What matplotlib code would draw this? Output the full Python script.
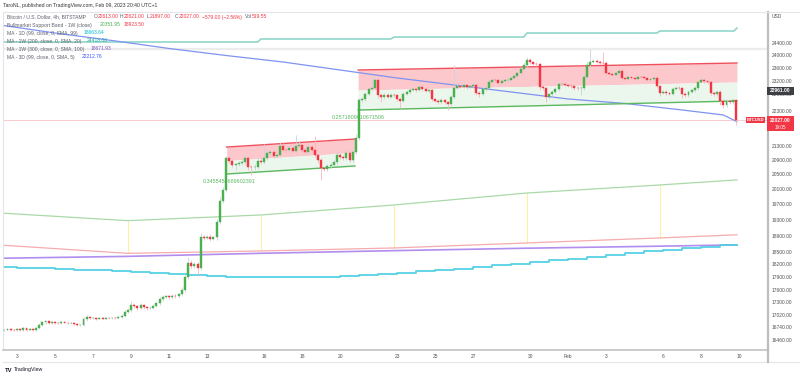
import numpy as np
import matplotlib
matplotlib.use('Agg')
import matplotlib.pyplot as plt
from matplotlib.ticker import FixedLocator, NullLocator, NullFormatter
from matplotlib.lines import Line2D
from matplotlib.patches import Rectangle

# ---------------- data (4h candles, BITSTAMP BTCUSD, Jan 2 08:00 -> Feb 9 20:00) ----------------
first_open = 16680
closes = [
    16690, 16705, 16680, 16670,
    16700, 16680, 16715, 16690, 16705, 16680,
    16720, 16800, 16850, 16870, 16840, 16860,
    16840, 16830, 16860, 16845, 16830, 16840,
    16815, 16790, 16800, 16920, 16960, 16940,
    16945, 16930, 16940, 16935, 16950, 16945,
    16950, 16940, 16970, 17000, 17080, 17120,
    17250, 17210, 17180, 17240, 17190, 17170,
    17180, 17230, 17280, 17380, 17430, 17440,
    17420, 17460, 17440, 17490, 17600, 17895,
    18230, 18160, 18200, 18120, 18870, 18850,
    18880, 18830, 18860, 19250, 19800, 20080,
    20950, 20860, 20760, 20780, 20800, 20830,
    20950, 20700, 20690, 20710, 20880, 20850,
    20950, 21090, 21120, 21000, 21040, 21300,
    21180, 21160, 21230, 21150, 21290, 21320,
    21180, 21120, 21250, 21170, 21040, 20900,
    20680, 20650, 20720, 20770, 20830, 21030,
    20980, 20950, 21090, 20900, 21120, 21515,
    22610, 22650, 22800, 22960, 22990, 23240,
    22780, 22700, 22790, 22720, 22790, 22770,
    22650, 22600, 22800, 22870, 22930, 22970,
    22930, 23010, 22950, 22900, 22920, 22650,
    22600, 22560, 22620, 22560, 22500, 22700,
    23000, 23060, 23030, 23080, 23020, 23040,
    23090, 22850, 22800, 22950, 23000, 23180,
    23230, 23220, 23150, 23200, 23220, 23240,
    23300, 23350, 23450, 23560, 23700, 23850,
    23780, 23740, 23720, 23020, 22980, 22720,
    22800, 22870, 22950, 23100, 23120, 23080,
    23060, 23040, 22990, 22980, 23000, 23330,
    23700, 23800, 23820, 23790, 23770, 23760,
    23450, 23420, 23400, 23460, 23520, 23300,
    23270, 23310, 23300, 23270, 23330, 23320,
    23280, 23240, 23250, 23300, 23050, 22850,
    22880, 22840, 22820, 22960, 23000, 22980,
    22820, 22760, 22880, 22920, 22990, 23170,
    23240, 23190, 23160, 22850, 22800, 22880,
    22600, 22480, 22600, 22550, 22613, 22027,
]
wick_up = [
    20, 25, 20, 15,
    25, 20, 30, 20, 15, 25,
    20, 40, 30, 30, 20, 25,
    20, 25, 30, 20, 15, 20,
    20, 15, 20, 40, 50, 20,
    15, 20, 15, 20, 15, 20,
    20, 15, 20, 30, 40, 50,
    80, 30, 25, 40, 30, 20,
    30, 40, 40, 50, 40, 30,
    30, 40, 30, 40, 60, 70,
    150, 80, 60, 60, 100, 60,
    50, 60, 40, 80, 100, 90,
    60, 60, 50, 40, 60, 80,
    100, 50, 60, 70, 100, 60,
    400, 80, 90, 60, 60, 100,
    70, 60, 80, 60, 300, 100,
    60, 60, 80, 80, 400, 60,
    40, 50, 60, 60, 70, 80,
    60, 60, 90, 70, 80, 100,
    60, 60, 60, 60, 300, 110,
    50, 60, 60, 50, 60, 50,
    50, 40, 60, 50, 60, 50,
    50, 60, 40, 40, 50, 40,
    40, 40, 50, 40, 30, 60,
    700, 80, 50, 60, 40, 50,
    60, 50, 40, 60, 60, 80,
    60, 40, 40, 50, 40, 50,
    60, 60, 70, 80, 90, 100,
    60, 50, 40, 40, 50, 50,
    50, 50, 60, 60, 50, 40,
    40, 40, 40, 40, 60, 80,
    90, 420, 80, 60, 60, 330,
    60, 40, 40, 50, 60, 50,
    40, 50, 40, 40, 60, 40,
    50, 40, 40, 60, 50, 40,
    40, 40, 40, 60, 60, 40,
    50, 40, 40, 50, 60, 60,
    80, 50, 40, 40, 40, 50,
    60, 50, 60, 50, 50, 8,
]
wick_dn = [
    20, 20, 25, 20,
    20, 25, 20, 25, 20, 20,
    20, 20, 30, 30, 25, 20,
    20, 25, 20, 20, 25, 20,
    25, 30, 20, 20, 30, 25,
    15, 20, 15, 15, 20, 15,
    20, 20, 20, 20, 30, 30,
    40, 40, 50, 30, 30, 40,
    30, 30, 40, 30, 40, 30,
    40, 30, 40, 30, 40, 50,
    60, 60, 50, 170, 60, 60,
    40, 50, 40, 60, 50, 60,
    60, 60, 60, 150, 60, 50,
    60, 80, 200, 60, 50, 60,
    60, 50, 60, 60, 50, 60,
    60, 60, 50, 60, 60, 50,
    60, 60, 60, 60, 60, 80,
    330, 60, 50, 40, 50, 60,
    50, 60, 50, 60, 50, 60,
    60, 60, 60, 60, 60, 60,
    100, 150, 50, 50, 40, 50,
    60, 200, 50, 40, 50, 40,
    50, 40, 40, 40, 50, 60,
    50, 60, 50, 60, 180, 60,
    60, 40, 50, 40, 50, 40,
    40, 80, 80, 50, 40, 50,
    40, 40, 60, 40, 40, 40,
    40, 50, 50, 50, 60, 60,
    50, 40, 50, 80, 60, 170,
    60, 50, 50, 50, 40, 40,
    40, 40, 50, 60, 200, 60,
    60, 60, 50, 40, 40, 40,
    60, 50, 40, 40, 40, 60,
    50, 40, 40, 40, 40, 40,
    40, 40, 40, 40, 60, 100,
    40, 60, 60, 50, 40, 40,
    150, 60, 50, 40, 40, 50,
    40, 50, 50, 60, 60, 60,
    120, 80, 60, 60, 50, 130,
]

# indicator series (x given as candle index)
weekly_idx = [-1.4, 39, 81, 123, 165, 207, 231.3]
band_green = [19478, 19281, 19427, 19686, 20001, 20215, 20352]
band_red = [18669, 18464, 18522, 18596, 18720, 18845, 18923.5]
ma1w300 = [18344, 18390, 18465, 18530, 18590, 18640, 18672]
band_marks = [39, 81, 123, 165, 207]

ma1w200_vals = [24432, 24529, 24594, 24724, 24790, 24889]
ma1w200_steps = [81, 123, 165, 207, 231.3]

ma1d_days = list(range(-1, 38))  # Jan 2 .. Feb 9 (days from Jan 3)
ma1d_vals = [18134, 18120, 18105, 18090, 18070, 18050, 18030, 18010, 17990, 17960,
             17940, 17920, 17900, 17890, 17885, 17883, 17883, 17890, 17910, 17940,
             17970, 18000, 18030, 18060, 18090, 18130, 18170, 18210, 18250, 18290,
             18330, 18380, 18430, 18470, 18510, 18550, 18590, 18630, 18664]

ma3d_idx = [-1.4, 16, 34, 52, 70, 88, 106, 124, 142, 160, 178, 196, 214, 227, 231.3]
ma3d_vals = [24989, 24725, 24481, 24223, 23999, 23793, 23542, 23294, 23080, 22866,
             22655, 22520, 22327, 22180, 21984]

# drawn channels: (start idx, end idx), top prices, bottom prices
ch1_idx, ch1_top, ch1_bot = [70.2, 110.7], [21257, 21484], [20511, 20730]
ch2_idx, ch2_top, ch2_bot = [111.7, 231.3], [23542, 23761], [22326, 22595]
ch1_label, ch2_label = "0.3455454689602391", "0.2571809610671506"

hline_grey = 24222
last_price = 22027
marker_price = 22961

ytick_vals = [24400, 24000, 23600, 23200, 22800, 22300, 21300, 20900, 20500, 20100,
              19700, 19300, 18900, 18500, 18200, 17900, 17600, 17300, 17020, 16740, 16460]
xtick_days = [0, 2, 4, 6, 8, 10, 13, 15, 17, 20, 22, 24, 27, 29, 31, 34, 36, 38]
xtick_labels = ["3", "5", "7", "9", "11", "13", "16", "18", "20", "23", "25", "27",
                "30", "Feb", "3", "6", "8", "10"]

# ---------------- figure ----------------
FONT = ['Liberation Sans', 'DejaVu Sans']
plt.rcParams['font.family'] = FONT
W, H = 800, 378
fig = plt.figure(figsize=(8, 3.78), dpi=100, facecolor='white')
def fx(px): return px / W
def fy(py): return 1 - py / H

ax = fig.add_axes([fx(3), fy(350), fx(768) - fx(3), fy(12) - fy(350)])
ax.set_facecolor('white')
ax.set_yscale('log')
ax.set_xlim(-0.42, 241.1)
ax.set_ylim(16244, 25423)

closes_a = np.array(closes, float)
opens_a = np.concatenate([[first_open], closes_a[:-1]])
idx = np.arange(len(closes_a))
hi_body = np.maximum(opens_a, closes_a)
lo_body = np.minimum(opens_a, closes_a)
highs = hi_body + np.array(wick_up)
lows = lo_body - np.array(wick_dn)
up = closes_a >= opens_a

UP, DN = '#4caf50', '#f23645'
ax.vlines(idx[up], lows[up], highs[up], color='#c9d3de', lw=0.6, zorder=3)
ax.vlines(idx[~up], lows[~up], highs[~up], color='#f6b9be', lw=0.6, zorder=3)
cols = np.where(up, UP, DN)
ax.bar(idx, np.maximum(hi_body - lo_body, 8), bottom=lo_body, width=0.62,
       color=cols, edgecolor=cols, linewidth=0.3, zorder=4)

# channels
for cidx, ctop, cbot in [(ch1_idx, ch1_top, ch1_bot), (ch2_idx, ch2_top, ch2_bot)]:
    mid = np.sqrt(np.array(ctop) * np.array(cbot))
    ax.fill_between(cidx, ctop, mid, color='#fcc8cc', lw=0, zorder=1)
    ax.fill_between(cidx, mid, cbot, color='#ebf6ec', lw=0, zorder=1)
    ax.plot(cidx, ctop, color='#f0505c', lw=1.0, zorder=2.6)
    ax.plot(cidx, cbot, color='#5cb860', lw=1.0, zorder=2.6)

ax.text(62.7, 20303, ch1_label, color='#5cb860', fontsize=3.9, va='center', ha='left', zorder=2)
ax.text(103.5, 22099, ch2_label, color='#5cb860', fontsize=3.9, va='center', ha='left', zorder=2)

# horizontal lines
ax.axhline(hline_grey, color='#ececec', lw=1.6, zorder=0.5)
ax.axhline(last_price, color='#f23645', lw=0.6, alpha=0.3, zorder=0.6)

# indicators
ax.plot(weekly_idx, band_green, color='#a9d9a9', lw=0.9, zorder=2)
ax.plot(weekly_idx, band_red, color='#f6abad', lw=0.9, zorder=2)
gmap = dict(zip(weekly_idx, band_green)); rmap = dict(zip(weekly_idx, band_red))
ax.vlines(band_marks, [rmap[m] for m in band_marks], [gmap[m] for m in band_marks],
          color='#fff0a0', lw=0.8, zorder=1.5)
ax.plot(weekly_idx, ma1w300, color='#b18df0', lw=1.2, zorder=2)

tx, ty = [-1.4], [ma1w200_vals[0]]
for k, s in enumerate(ma1w200_steps):
    tx += [s - 1, s]
    ty += [ma1w200_vals[k], ma1w200_vals[k + 1]]
ax.plot(tx, ty, color='#86d3c6', lw=1.1, zorder=2)

ma1d_idx = [4 + 6 * d for d in ma1d_days]
ax.plot(ma1d_idx + [231.3], ma1d_vals + [ma1d_vals[-1]], color='#4fcfe3', lw=1.25,
        zorder=2, drawstyle='steps-post')

ax.plot(ma3d_idx, ma3d_vals, color='#7f93f0', lw=0.9, zorder=2.5)

# axes / ticks
ax.yaxis.tick_right()
ax.yaxis.set_major_locator(FixedLocator(ytick_vals))
ax.yaxis.set_minor_locator(NullLocator())
ax.yaxis.set_minor_formatter(NullFormatter())
ax.set_yticklabels([f"{v:.2f}" for v in ytick_vals])
ax.tick_params(axis='y', length=0, pad=2.8, labelsize=3.5, labelcolor='#505050')
ax.set_xticks([4 + 6 * d for d in xtick_days])
ax.set_xticklabels(xtick_labels)
ax.xaxis.set_minor_locator(NullLocator())
ax.tick_params(axis='x', length=0, pad=3.0, labelsize=3.5, labelcolor='#505050')

for s in ['top', 'left']:
    ax.spines[s].set_color('#e3e5ea'); ax.spines[s].set_linewidth(0.8)
ax.spines['right'].set_color('#bdbdbd'); ax.spines['right'].set_linewidth(1.6)
ax.spines['bottom'].set_color('#bdbdbd'); ax.spines['bottom'].set_linewidth(1.1)

fig.add_artist(Line2D([fx(3), fx(800)], [fy(362), fy(362)], color='#e3e5ea', lw=0.8))
fig.add_artist(Line2D([fx(768), fx(768)], [fy(350), fy(362)], color='#bdbdbd', lw=1.6))
fig.add_artist(Line2D([fx(768), fx(800)], [fy(12), fy(12)], color='#e3e5ea', lw=0.8))

# price labels on axis
def box(x0, y0, x1, y1, color):
    fig.add_artist(Rectangle((fx(x0), fy(y1)), fx(x1) - fx(x0), fy(y0) - fy(y1),
                             transform=fig.transFigure, color=color, lw=0, zorder=5))
box(767, 87, 794, 94.5, '#3d3f45')
fig.text(fx(780.5), fy(90.8), f"{marker_price:.2f}", color='white', fontsize=3.5,
         ha='center', va='center', zorder=6, fontweight='bold')
box(767, 116.5, 794, 130.5, '#f23645')
fig.text(fx(780.5), fy(120.5), f"{last_price:.2f}", color='white', fontsize=3.5,
         ha='center', va='center', zorder=6, fontweight='bold')
fig.text(fx(780.5), fy(127.0), "19:05", color='white', fontsize=3.3,
         ha='center', va='center', zorder=6)
box(746, 117, 765, 122.8, '#f23645')
fig.text(fx(755.5), fy(120.0), "BTCUSD", color='white', fontsize=3.1,
         ha='center', va='center', zorder=6, fontweight='bold')
fig.text(fx(772), fy(17), "USD", color='#505050', fontsize=3.5, ha='left', va='center')

# header + legend
fig.text(fx(3), fy(6), "TaroNL, published on TradingView.com, Feb 09, 2023 20:40 UTC+1",
         color='#333333', fontsize=3.7, ha='left', va='center')
renderer = fig.canvas.get_renderer()
LBL = '#5d606b'
LSIZE = 3.6
def chain(x_px, y_px, segs, size=LSIZE):
    x = x_px
    for s, c in segs:
        t = fig.text(fx(x), fy(y_px), s, color=c, fontsize=size, ha='left', va='center', zorder=6)
        x += t.get_window_extent(renderer).width
    return x

fig.text(fx(7), fy(17), "Bitcoin / U.S. Dollar, 4h, BITSTAMP", color=LBL, fontsize=LSIZE,
         ha='left', va='center')
row1 = [(94, "O", "22613.00"), (120, "H", "22621.00"), (146.7, "L", "21897.00"),
        (175, "C", "22027.00"), (201.7, "", "\u2212579.00 (\u22122.56%)"), (245, "Vol", "519.55")]
for xp, lab, val in row1:
    chain(xp, 17, [(lab, LBL), (val, DN)])

legend_rows = [
    (25, "Bullmarket Support Band - 1W (close)", [(99.3, "20351.95", '#4caf50'), (124, "18923.50", DN)]),
    (33, "MA - 1D (99, close, 0, SMA, 99)", [(84, "18663.64", '#00bcd4')]),
    (41, "MA - 1W (200, close, 0, SMA, 20)", [(87, "24418.06", '#26a69a')]),
    (49, "MA - 1W (300, close, 0, SMA, 100)", [(90.7, "18671.93", '#7e57c2')]),
    (57, "MA - 3D (99, close, 0, SMA, 5)", [(81.7, "22212.76", '#3d5afe')]),
]
for yp, lab, vals in legend_rows:
    fig.text(fx(7), fy(yp), lab, color=LBL, fontsize=LSIZE, ha='left', va='center', zorder=6)
    for xv, v, c in vals:
        fig.text(fx(xv), fy(yp), v, color=c, fontsize=LSIZE, ha='left', va='center', zorder=6)

# footer logo
fig.text(fx(5), fy(370), "TV", color='#131722', fontsize=4.2, fontweight='bold', ha='left', va='center')
fig.text(fx(14), fy(370), "TradingView", color='#131722', fontsize=3.8, ha='left', va='center')

fig.savefig('out.png', dpi=100, facecolor='white')
